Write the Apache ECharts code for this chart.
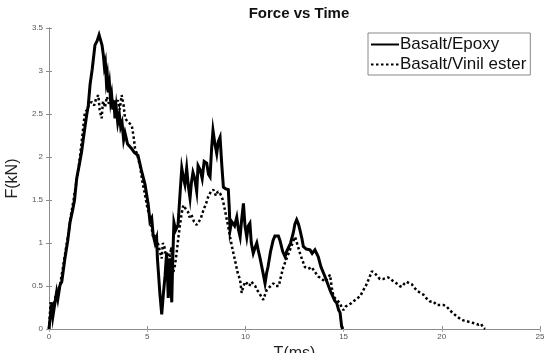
<!DOCTYPE html>
<html>
<head>
<meta charset="utf-8">
<script src="https://cdn.jsdelivr.net/npm/echarts@6/dist/echarts.min.js"></script>
<style>
  html, body { margin: 0; padding: 0; background: #fff; }
  #chart { width: 544px; height: 353px; }
</style>
</head>
<body>
<div id="chart"></div>
<script>
const xTicks = [0, 5, 10, 15, 20, 25];
const yTicks = [0, 0.5, 1, 1.5, 2, 2.5, 3, 3.5];

// Basalt/Epoxy (solid)
const epoxyT = [0, 0.1, 0.15, 0.2, 0.24, 0.3, 0.39, 0.45, 0.56, 0.65, 0.81, 0.95, 1.07, 1.2, 1.3, 1.41, 1.55, 1.66, 1.8, 1.92,
  2.0, 2.09, 2.2, 2.34, 2.45, 2.55, 2.62, 2.7, 2.77, 2.82, 2.87, 2.92, 2.97, 3.02, 3.08, 3.14, 3.19, 3.25, 3.3, 3.36,
  3.42, 3.5, 3.58, 3.65, 3.72, 3.8, 3.87, 4.0, 4.2, 4.35, 4.53, 4.7, 4.89, 5.05, 5.14, 5.23, 5.3, 5.4, 5.48, 5.52,
  5.57, 5.65, 5.74, 5.82, 5.91, 5.99, 6.03, 6.07, 6.12, 6.16, 6.2, 6.25, 6.3, 6.36, 6.45, 6.57, 6.68, 6.76, 6.85, 6.92,
  7.01, 7.1, 7.18, 7.25, 7.33, 7.42, 7.52, 7.59, 7.7, 7.8, 7.9, 8.03, 8.12, 8.2, 8.28, 8.35, 8.45, 8.54, 8.62, 8.71,
  8.8, 8.88, 9.0, 9.13, 9.18, 9.22, 9.3, 9.38, 9.45, 9.56, 9.65, 9.73, 9.8, 9.9, 9.98, 10.07, 10.15, 10.23, 10.3, 10.4,
  10.5, 10.58, 10.65, 10.75, 10.83, 10.9, 11.0, 11.08, 11.15, 11.28, 11.41, 11.5, 11.59, 11.68, 11.76, 11.9, 12.02, 12.1, 12.19, 12.3,
  12.44, 12.52, 12.61, 12.7, 12.78, 12.88, 12.95, 13.1, 13.29, 13.4, 13.54, 13.6, 13.71, 13.85, 14.05, 14.2, 14.31, 14.45, 14.55, 14.65,
  14.75, 14.82, 14.9, 14.95];
const epoxyF = [0, 0.22, 0.31, 0.15, 0.13, 0.3, 0.43, 0.35, 0.51, 0.55, 0.82, 1.02, 1.24, 1.38, 1.5, 1.75, 1.92, 2.06, 2.3, 2.49,
  2.6, 2.84, 3.02, 3.3, 3.35, 3.42, 3.4, 3.3, 3.18, 3.05, 3.1, 2.88, 2.95, 2.75, 2.85, 2.65, 2.72, 2.55, 2.66, 2.45,
  2.58, 2.4, 2.5, 2.35, 2.4, 2.2, 2.28, 2.15, 2.1, 2.05, 2.02, 1.85, 1.68, 1.45, 1.25, 1.29, 1.1, 1.0, 1.06, 0.82,
  0.66, 0.4, 0.17, 0.4, 0.62, 0.89, 0.65, 0.36, 0.6, 0.82, 0.55, 0.31, 0.8, 1.24, 1.15, 1.21, 1.6, 1.87, 1.75, 1.68,
  1.87, 1.65, 1.52, 1.7, 1.82, 1.75, 1.6, 1.9, 1.85, 1.75, 1.95, 1.93, 1.8, 1.77, 2.1, 2.31, 2.15, 2.04, 2.18, 2.23,
  1.9, 1.65, 1.63, 1.62, 1.4, 1.15, 1.25, 1.27, 1.2, 1.3, 1.15, 1.07, 1.25, 1.46, 1.2, 1.07, 1.2, 1.23, 1.0, 0.88,
  0.95, 1.0, 0.92, 0.82, 0.8, 0.65, 0.53, 0.65, 0.72, 0.9, 1.03, 1.08, 1.07, 1.08, 1.03, 0.9, 0.84, 0.9, 0.92, 1.0,
  1.12, 1.22, 1.27, 1.22, 1.15, 1.05, 0.96, 0.93, 0.92, 0.88, 0.92, 0.9, 0.84, 0.72, 0.61, 0.52, 0.45, 0.38, 0.33, 0.3,
  0.22, 0.19, 0.03, 0];

// Basalt/Vinil ester (dotted)
const vinilT = [0, 0.08, 0.15, 0.25, 0.35, 0.45, 0.55, 0.7, 0.85, 1.0, 1.1, 1.25, 1.4, 1.55, 1.7, 1.83, 1.95, 2.05, 2.17, 2.3,
  2.4, 2.51, 2.58, 2.68, 2.75, 2.85, 2.95, 3.05, 3.19, 3.3, 3.4, 3.5, 3.6, 3.7, 3.8, 3.87, 4.05, 4.21, 4.3, 4.38,
  4.5, 4.63, 4.75, 4.89, 5.0, 5.14, 5.22, 5.31, 5.4, 5.48, 5.57, 5.65, 5.74, 5.8, 5.88, 5.95, 6.07, 6.15, 6.22, 6.33,
  6.42, 6.5, 6.58, 6.67, 6.76, 6.84, 6.95, 7.08, 7.15, 7.25, 7.38, 7.52, 7.6, 7.72, 7.86, 8.0, 8.11, 8.25, 8.37, 8.5,
  8.6, 8.71, 8.85, 8.96, 9.1, 9.22, 9.35, 9.47, 9.6, 9.73, 9.81, 9.9, 10.0, 10.07, 10.2, 10.3, 10.4, 10.5, 10.57, 10.7,
  10.8, 10.91, 11.0, 11.08, 11.2, 11.3, 11.42, 11.55, 11.7, 11.8, 11.93, 12.1, 12.27, 12.4, 12.53, 12.65, 12.78, 12.9, 13.03, 13.2,
  13.37, 13.55, 13.71, 13.9, 14.05, 14.14, 14.22, 14.31, 14.4, 14.48, 14.6, 14.7, 14.82, 14.9, 14.99, 15.1, 15.24, 15.4, 15.5, 15.65,
  15.84, 16.0, 16.13, 16.26, 16.35, 16.43, 16.55, 16.7, 16.85, 17.0, 17.1, 17.25, 17.36, 17.5, 17.7, 17.85, 17.96, 18.1, 18.21, 18.35,
  18.47, 18.6, 18.72, 18.9, 19.06, 19.2, 19.4, 19.57, 19.74, 19.9, 20.08, 20.25, 20.4, 20.59, 20.75, 20.93, 21.1, 21.27, 21.45, 21.6,
  21.75, 21.86, 22.0, 22.1, 22.2];
const vinilF = [0, 0.31, 0.2, 0.28, 0.4, 0.42, 0.5, 0.7, 0.92, 1.12, 1.3, 1.5, 1.72, 1.95, 2.25, 2.52, 2.55, 2.62, 2.64, 2.6,
  2.68, 2.72, 2.55, 2.45, 2.65, 2.58, 2.7, 2.62, 2.69, 2.58, 2.6, 2.66, 2.55, 2.72, 2.6, 2.45, 2.4, 2.37, 2.25, 2.1,
  2.02, 1.9, 1.72, 1.56, 1.42, 1.29, 1.18, 1.06, 1.09, 1.02, 0.98, 0.9, 0.82, 1.0, 0.95, 0.85, 0.89, 0.8, 0.95, 0.66,
  0.75, 0.89, 1.05, 1.21, 1.35, 1.44, 1.4, 1.36, 1.3, 1.33, 1.25, 1.21, 1.19, 1.28, 1.38, 1.46, 1.54, 1.6, 1.62, 1.55,
  1.6, 1.58, 1.5, 1.38, 1.22, 1.07, 0.92, 0.8, 0.66, 0.57, 0.42, 0.5, 0.55, 0.53, 0.5, 0.55, 0.57, 0.5, 0.46, 0.42,
  0.38, 0.34, 0.4, 0.45, 0.48, 0.5, 0.53, 0.5, 0.5, 0.6, 0.72, 0.82, 0.92, 1.0, 1.07, 0.98, 0.88, 0.8, 0.72, 0.7,
  0.72, 0.66, 0.61, 0.58, 0.55, 0.53, 0.6, 0.63, 0.48, 0.38, 0.35, 0.33, 0.3, 0.25, 0.22, 0.26, 0.28, 0.3, 0.32, 0.35,
  0.38, 0.45, 0.5, 0.57, 0.62, 0.67, 0.66, 0.62, 0.58, 0.58, 0.59, 0.6, 0.59, 0.56, 0.53, 0.5, 0.49, 0.53, 0.55, 0.53,
  0.52, 0.48, 0.45, 0.42, 0.4, 0.36, 0.32, 0.32, 0.28, 0.28, 0.28, 0.26, 0.22, 0.18, 0.15, 0.12, 0.1, 0.09, 0.08, 0.07,
  0.06, 0.05, 0.06, 0.02, 0];

const pairs = (t, f) => t.map((x, i) => [x, f[i]]);

const chart = echarts.init(document.getElementById('chart'), null, { renderer: 'canvas' });

const axisGrey = '#8c8c8c';
const labelStyle = { fontSize: 8, color: '#555', fontFamily: 'Liberation Sans' };

chart.setOption({
  animation: false,
  backgroundColor: '#fff',
  title: {
    text: 'Force vs Time',
    left: 294,
    top: 1,
    textAlign: 'center',
    textStyle: { fontSize: 15, fontWeight: 'bold', color: '#111', fontFamily: 'Liberation Sans' }
  },
  legend: {
    left: 368,
    top: 33,
    orient: 'vertical',
    itemWidth: 28,
    itemHeight: 12,
    itemGap: 3,
    padding: [3, 4, 2, 2],
    borderColor: '#888',
    borderWidth: 1,
    borderRadius: 0,
    backgroundColor: '#fff',
    itemStyle: { opacity: 0 },
    textStyle: { fontSize: 17, color: '#111', fontFamily: 'Liberation Sans', padding: [0, 0, 0, -4] },
    data: ['Basalt/Epoxy', 'Basalt/Vinil ester']
  },
  grid: { left: 49, right: 4, top: 28, bottom: 24, outerBoundsMode: 'none', containLabel: false },
  xAxis: [{
    type: 'value',
    min: xTicks[0],
    max: xTicks[xTicks.length - 1],
    interval: 5,
    name: 'T(ms)',
    nameLocation: 'middle',
    nameGap: 12,
    nameTextStyle: { fontSize: 16, color: '#222', fontFamily: 'Liberation Sans' },
    axisLine: { show: true, lineStyle: { color: axisGrey, width: 1 } },
    axisTick: { show: true, inside: true, length: 3, lineStyle: { color: axisGrey } },
    axisLabel: Object.assign({ margin: 4 }, labelStyle),
    splitLine: { show: false }
  }, {
    type: 'value',
    position: 'top',
    min: xTicks[0],
    max: xTicks[xTicks.length - 1],
    interval: 5,
    axisLine: { show: false },
    axisTick: { show: true, inside: true, length: 3, lineStyle: { color: '#aaa' } },
    axisLabel: { show: false },
    splitLine: { show: false }
  }],
  yAxis: [{
    type: 'value',
    min: yTicks[0],
    max: yTicks[yTicks.length - 1],
    interval: 0.5,
    name: 'F(kN)',
    nameLocation: 'middle',
    nameGap: 19,
    nameTextStyle: { fontSize: 16, color: '#222', fontFamily: 'Liberation Sans' },
    axisLine: { show: true, lineStyle: { color: axisGrey, width: 1 } },
    axisTick: { show: true, inside: true, length: 3, lineStyle: { color: axisGrey } },
    axisLabel: Object.assign({ margin: 6 }, labelStyle),
    splitLine: { show: false }
  }, {
    type: 'value',
    position: 'right',
    min: yTicks[0],
    max: yTicks[yTicks.length - 1],
    interval: 0.5,
    axisLine: { show: true, lineStyle: { color: axisGrey, width: 1 } },
    axisTick: { show: true, inside: true, length: 3, lineStyle: { color: axisGrey } },
    axisLabel: { show: false },
    splitLine: { show: false }
  }],
  series: [{
    name: 'Basalt/Epoxy',
    type: 'line',
    data: pairs(epoxyT, epoxyF),
    showSymbol: false,
    symbol: 'none',
    lineStyle: { color: '#000', width: 3, join: 'miter' },
    itemStyle: { color: '#000' }
  }, {
    name: 'Basalt/Vinil ester',
    type: 'line',
    data: pairs(vinilT, vinilF),
    showSymbol: false,
    symbol: 'none',
    lineStyle: { color: '#000', width: 2.5, type: [2.5, 2.5] },
    itemStyle: { color: '#000' }
  }]
});
</script>
</body>
</html>
